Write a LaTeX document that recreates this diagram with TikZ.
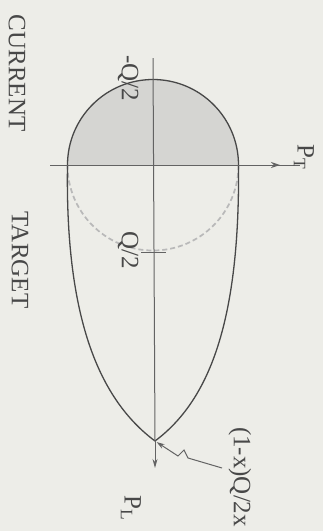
\documentclass[tikz,border=0pt]{standalone}
\usepackage{fontspec}
\setmainfont{Liberation Serif}
\usetikzlibrary{arrows.meta, decorations.markings}

\definecolor{paper}{RGB}{237,237,232}
\definecolor{capfill}{RGB}{213,213,210}
\definecolor{ink}{RGB}{72,72,72}

\tikzset{
    rot label/.style={rotate=-90, text=ink, font=\fontsize{25}{30}\selectfont, inner sep=0pt},
    outline/.style={draw=ink, line width=1.3pt},
    half dash/.style={draw=gray!55, line width=1.7pt, dash pattern=on 5pt off 3pt},
    axis line/.style={draw=ink!85, line width=1pt},
    mid arrow/.style={postaction={decorate}, decoration={markings,
        mark=at position #1 with {\arrow{Stealth[length=9pt,width=6pt]}}}}
}

\begin{document}
\begin{tikzpicture}[x=1pt, y=-1pt]

    % 背景与边界
    \fill[paper] (0,0) rectangle (323,531);
    \useasboundingbox (0,0) rectangle (323,531);

    % 1. 关键点
    \coordinate (O)      at (153,165);
    \coordinate (left)   at (67.5,165);
    \coordinate (right)  at (238.5,165);
    \coordinate (apex)   at (155,441);
    \coordinate (axtop)  at (153,58);
    \coordinate (ptw)    at (50,165);
    \coordinate (pte)    at (300,165);
    \coordinate (tickl)  at (141,252);
    \coordinate (tickr)  at (166,252);
    \coordinate (pldown) at (155,468);
    \coordinate (zz)     at (222,468);

    % 2. 上半圆阴影 (当前)
    \fill[capfill] (left) arc[start angle=180, end angle=360, radius=85.5] -- cycle;

    % 3. 下半圆虚线 (目标)
    \draw[half dash] (right) arc[start angle=0, end angle=180, radius=85.5];

    % 4. 外轮廓: 上半圆 + 两条曲线汇于顶点
    \draw[outline] (left) arc[start angle=180, end angle=360, radius=85.5];
    \draw[outline] (right) .. controls (240,320) and (210,400) .. (apex);
    \draw[outline] (left) .. controls (65,320) and (100,400) .. (apex);

    % 5. 轴线
    \draw[axis line] (axtop) -- (apex);
    \draw[axis line, mid arrow=0.92] (ptw) -- (pte);
    \draw[axis line] (tickl) -- (tickr);

    % 6. 顶点处的箭头
    \draw[axis line, -{Stealth[length=9pt,width=5pt]}] (apex) -- (pldown);
    \draw[axis line, shorten >=2pt, -{Stealth[length=8pt,width=5pt]}]
        (zz) -- ++(-34,-10) -- ++(-4,-8) -- ++(-6,6) -- (apex);

    % 7. 文字
    \node[rot label] (cur)  at (17,73)   {CURRENT};
    \node[rot label] (tgt)  at (20,260)  {TARGET};
    \node[rot label] (mq)   at (128,78)  {-Q/2};
    \node[rot label] (q)    at (128,250) {Q/2};
    \node[rot label] (pt)   at (304,157) {P\textsubscript{T}};
    \node[rot label] (pl)   at (131,508) {P\textsubscript{L}};
    \node[rot label] (loss) at (240,477) {(1-x)Q/2x};

\end{tikzpicture}
\end{document}
